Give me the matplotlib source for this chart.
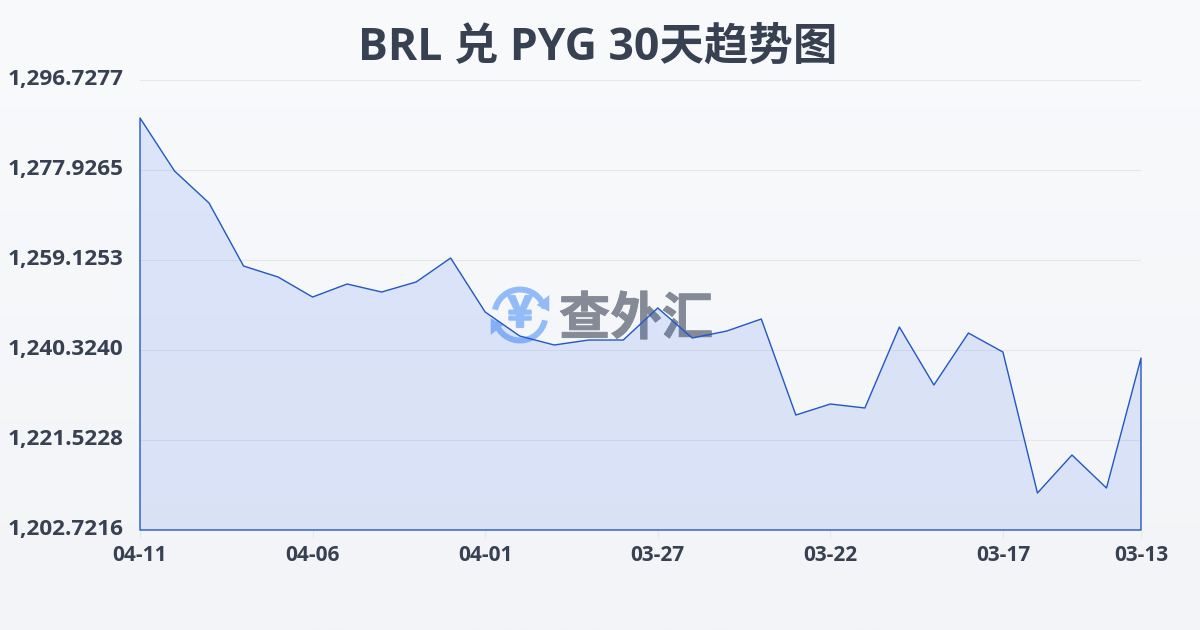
import numpy as np
import matplotlib
matplotlib.use('Agg')
import matplotlib.pyplot as plt
import matplotlib.patheffects as pe
from matplotlib.patches import Wedge, Polygon
from matplotlib.transforms import ScaledTranslation

plt.rcParams['font.family'] = ['Open Sans', 'Noto Sans CJK SC', 'DejaVu Sans']

# data
dates = ['04-11', '04-06', '04-01', '03-27', '03-22', '03-17', '03-13']
date_idx = [0, 5, 10, 15, 20, 25, 29]
y_ticks = [1202.7216, 1221.5228, 1240.3240, 1259.1253, 1277.9265, 1296.7277]
rates = [1288.79, 1277.72, 1271.03, 1257.87, 1255.57, 1251.39, 1254.11, 1252.44,
         1254.53, 1259.54, 1248.26, 1243.25, 1241.37, 1242.41, 1242.41, 1249.10,
         1242.83, 1244.29, 1246.80, 1226.74, 1229.04, 1228.21, 1245.13, 1233.01,
         1243.87, 1239.90, 1210.45, 1218.39, 1211.49, 1238.65]

TEXT = '#374151'
LINE = '#2257c5'
W, H = 1200, 630

fig = plt.figure(figsize=(12, 6.3), dpi=100)

# background gradient + watermark, in pixel coords
bg = fig.add_axes([0, 0, 1, 1], zorder=0)
bg.set_xlim(0, W)
bg.set_ylim(H, 0)
bg.axis('off')
top = np.array(matplotlib.colors.to_rgb('#f9fafc'))
bottom = np.array(matplotlib.colors.to_rgb('#f3f4f7'))
t = np.linspace(0, 1, 256)[:, None, None]
bg.imshow(top + (bottom - top) * t, extent=[0, W, H, 0], aspect='auto', zorder=0)

LOGO = '#93bbf8'
bg.add_patch(Wedge((520, 315), 28.5, 192, 345, width=6, color=LOGO, lw=0))
bg.add_patch(Wedge((520, 315), 28.5, 12, 165, width=6, color=LOGO, lw=0))
bg.add_patch(Polygon([(536.7, 305), (549.3, 295), (549.3, 311.7)], color=LOGO, lw=0))
bg.add_patch(Polygon([(503.3, 325), (490.7, 335), (490.7, 318.3)], color=LOGO, lw=0))
yen = bg.text(520, 314, '¥', color=LOGO, fontsize=31, fontweight='bold', ha='center', va='center',
              family=['Noto Sans CJK SC'])
yen.set_path_effects([pe.withStroke(linewidth=1.5, foreground=LOGO)])
mark = bg.text(636, 319, '查外汇', color='#858b96', fontsize=37, fontweight='bold', ha='center', va='center',
               family=['Noto Sans CJK SC'])
mark.set_path_effects([pe.withStroke(linewidth=0.6, foreground='#858b96')])

# main chart
ax = fig.add_axes([140 / W, 1 - 530 / H, 1001 / W, 450 / H], zorder=1)
ax.patch.set_visible(False)
x = np.arange(len(rates))
ax.fill_between(x, rates, y_ticks[0], facecolor='#2563eb', alpha=0.13, lw=0, zorder=2)
ax.fill_between(x, rates, y_ticks[0], facecolor='none', edgecolor=LINE, lw=1.0, zorder=3, clip_on=False)
ax.set_xlim(0, len(rates) - 1)
ax.set_ylim(y_ticks[0], y_ticks[-1])

for s in ax.spines.values():
    s.set_visible(False)
ax.set_yticks(y_ticks)
ax.set_yticklabels([f'{v:,.4f}' for v in y_ticks], fontsize=16.2, fontweight='bold', color=TEXT)
ax.tick_params(axis='y', length=0, pad=12)
# labels sit a little above their grid lines
up = ScaledTranslation(0, 2.5 / 72, fig.dpi_scale_trans)
for lab in ax.get_yticklabels():
    lab.set_transform(lab.get_transform() + up)
ax.set_xticks(date_idx)
ax.set_xticklabels(dates, fontsize=15, fontweight='bold', color=TEXT)
ax.tick_params(axis='x', length=6, width=0.8, color='#e2e8f0', pad=5)
ax.grid(axis='y', color='#e5e7eb', lw=0.8, zorder=1)
ax.set_axisbelow(True)

fig.text(598 / W, 1 - 48 / H, 'BRL 兑 PYG 30天趋势图', fontsize=32, fontweight='bold',
         color=TEXT, ha='center', va='center')

fig.savefig('out.png', dpi=100)
